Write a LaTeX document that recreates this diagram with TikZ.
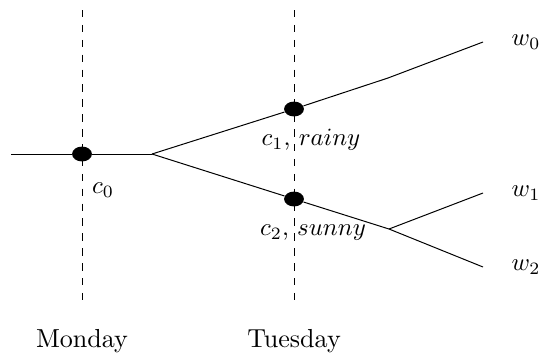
\documentclass[tikz,border=0pt]{standalone}
\usepackage{amsmath,amssymb}
\usetikzlibrary{positioning}
\usetikzlibrary{shapes.geometric}

\begin{document}
\begin{tikzpicture}[
    x=0.403pt, y=0.403pt,
    state dot/.style={
        ellipse, fill=black, draw=none, inner sep=0pt,
        minimum width=8pt, minimum height=6pt
    },
    day line/.style={dashed, line width=0.4pt},
    day label/.style={anchor=base, font=\fontsize{10.5}{12}\selectfont},
    branch/.style={line width=0.4pt}
  ]
  \useasboundingbox (0,0) rectangle (543,352);

  \coordinate (mon_top) at (82,342);
  \coordinate (mon_bot) at (82,47);
  \coordinate (tue_top) at (294,342);
  \coordinate (tue_bot) at (294,47);

  \draw[day line] (mon_top) -- (mon_bot);
  \draw[day line] (tue_top) -- (tue_bot);

  \coordinate (start) at (11,198);
  \coordinate (split) at (152,198);
  \coordinate (bend_up) at (388,274);
  \coordinate (split_low) at (389,123);

  \coordinate (end_w0) at (483,310);
  \coordinate (end_w1) at (483,159);
  \coordinate (end_w2) at (483,85);

  \node[state dot] (c0) at (82,198) {};
  \node[state dot] (c1) at (294,243) {};
  \node[state dot] (c2) at (294,153) {};

  \draw[branch] (start) -- (c0) -- (split);
  \draw[branch] (split) -- (c1) -- (bend_up) -- (end_w0);
  \draw[branch] (split) -- (c2) -- (split_low) -- (end_w2);
  \draw[branch] (split_low) -- (end_w1);

  \node (lab_c0) at (103,162) {$c_0$};
  \node (lab_c1) at (311,212) {$c_1$, $rainy$};
  \node (lab_c2) at (313,119) {$c_2$, $sunny$};

  \node[right=8pt of end_w0] (w0) {$w_0$};
  \node[right=8pt of end_w1] (w1) {$w_1$};
  \node[right=8pt of end_w2] (w2) {$w_2$};

  \node[day label] (monday) at (82,5) {Monday};
  \node[day label] (tuesday) at (294,5) {Tuesday};

\end{tikzpicture}
\end{document}
